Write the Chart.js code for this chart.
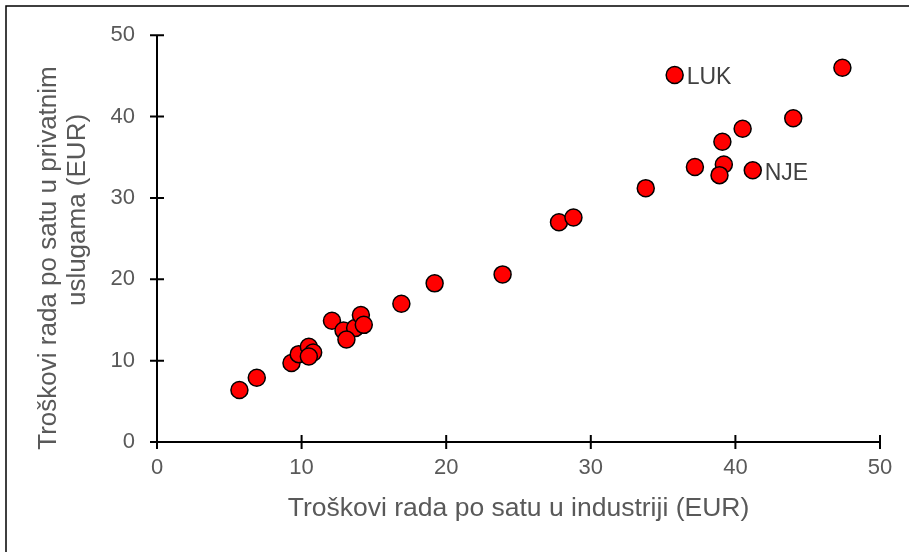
<!DOCTYPE html>
<html>
<head>
<meta charset="utf-8">
<script src="https://cdn.jsdelivr.net/npm/chart.js@4.4.1/dist/chart.umd.min.js"></script>
<style>
  html, body { margin: 0; padding: 0; background: #fff; }
  #wrap { width: 909px; height: 552px; }
</style>
</head>
<body>
<div id="wrap"><canvas id="costChart" width="909" height="552"></canvas></div>
<script>
// hourly labour cost, EUR
var industry = [5.7, 6.9, 9.3, 9.8, 10.5, 10.8, 10.5, 12.1, 12.9, 13.7, 13.1, 14.1, 14.3, 16.9, 19.2, 23.9, 27.8, 28.8, 33.8, 35.8, 37.2, 39.1, 39.2, 38.9, 40.5, 41.2, 44.0, 47.4];
var services = [6.4, 7.9, 9.7, 10.8, 11.7, 11.0, 10.5, 14.9, 13.7, 14.0, 12.6, 15.6, 14.4, 17.0, 19.5, 20.6, 27.0, 27.6, 31.2, 45.1, 33.8, 36.9, 34.1, 32.8, 38.5, 33.4, 39.8, 46.0];
var pointNames = ['', '', '', '', '', '', '', '', '', '', '', '', '', '', '', '', '', '', '', 'LUK', '', '', '', '', '', 'NJE', '', ''];
var axisTicks = [0, 10, 20, 30, 40, 50];

var xTitle = 'Troškovi rada po satu u industriji (EUR)';
var yTitle = ['Troškovi rada po satu u privatnim', 'uslugama (EUR)'];

var fontFamily = "'Liberation Sans', Arial, sans-serif";

var points = industry.map(function (x, i) {
     return { x: x, y: services[i] };
});

// axes drawn like the original: black lines with ticks crossing them
var axesPlugin = {
     id: 'axesPlugin',
     beforeDatasetsDraw: function (chart) {
          var ctx = chart.ctx;
          var xs = chart.scales.x, ys = chart.scales.y;
          var x0 = xs.getPixelForValue(0), y0 = ys.getPixelForValue(0);
          ctx.save();
          ctx.strokeStyle = '#000000';
          ctx.lineWidth = 2;
          ctx.beginPath();
          ctx.moveTo(x0, ys.getPixelForValue(50));
          ctx.lineTo(x0, y0);
          ctx.lineTo(xs.getPixelForValue(50), y0);
          axisTicks.forEach(function (t) {
               var px = xs.getPixelForValue(t);
               ctx.moveTo(px, y0 - 7);
               ctx.lineTo(px, y0 + 7);
               var py = ys.getPixelForValue(t);
               ctx.moveTo(x0 - 7, py);
               ctx.lineTo(x0 + 7, py);
          });
          ctx.stroke();
          ctx.restore();
     },
     afterDraw: function (chart) {
          var ctx = chart.ctx;
          ctx.save();
          // outer frame
          ctx.strokeStyle = '#000000';
          ctx.lineWidth = 1.5;
          ctx.strokeRect(6, 6, chart.width + 10, chart.height + 10);

          // y title, two rotated lines
          ctx.fillStyle = '#595959';
          ctx.font = '26px ' + fontFamily;
          ctx.textAlign = 'center';
          ctx.textBaseline = 'middle';
          ctx.save();
          ctx.translate(49, 258);
          ctx.rotate(-Math.PI / 2);
          ctx.fillText(yTitle[0], 0, 0);
          ctx.fillText(yTitle[1], 48, 28.6);
          ctx.restore();

          // point names
          var meta = chart.getDatasetMeta(0);
          ctx.fillStyle = '#404040';
          ctx.font = '23px ' + fontFamily;
          ctx.textAlign = 'left';
          pointNames.forEach(function (name, i) {
               if (!name) return;
               var el = meta.data[i];
               ctx.fillText(name, el.x + 12, el.y + 3);
          });
          ctx.restore();
     }
};

new Chart(document.getElementById('costChart'), {
     type: 'scatter',
     data: {
          datasets: [
               {
                    data: points,
                    backgroundColor: '#ff0000',
                    borderColor: '#000000',
                    borderWidth: 1.5,
                    pointRadius: 8.5,
                    pointHoverRadius: 8.5
               }
          ]
     },
     options: {
          responsive: false,
          animation: false,
          layout: {
               padding: { left: 0, top: 34, right: 29, bottom: 0 }
          },
          plugins: {
               legend: { display: false },
               tooltip: { enabled: false }
          },
          scales: {
               x: {
                    type: 'linear',
                    min: 0,
                    max: 50,
                    afterFit: function (scale) { scale.height = 110; },
                    grid: { display: false, drawTicks: false },
                    border: { display: false },
                    ticks: {
                         stepSize: 10,
                         padding: 13,
                         color: '#595959',
                         font: { family: fontFamily, size: 22 }
                    },
                    title: {
                         display: true,
                         text: xTitle,
                         color: '#595959',
                         font: { family: fontFamily, size: 26.5, lineHeight: 1.15 },
                         padding: { top: 0, bottom: 28 }
                    }
               },
               y: {
                    type: 'linear',
                    min: 0,
                    max: 50,
                    afterFit: function (scale) { scale.width = 157; },
                    grid: { display: false, drawTicks: false },
                    border: { display: false },
                    ticks: {
                         stepSize: 10,
                         padding: 22,
                         color: '#595959',
                         font: { family: fontFamily, size: 22 }
                    }
               }
          }
     },
     plugins: [axesPlugin]
});
</script>
</body>
</html>
